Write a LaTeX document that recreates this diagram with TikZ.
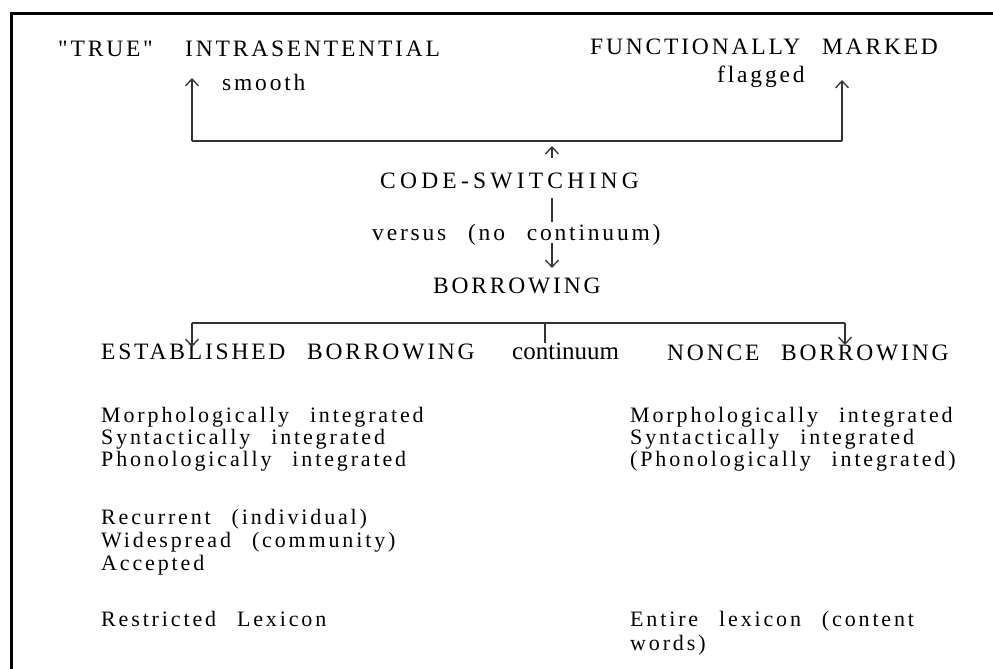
\documentclass[tikz,border=0pt]{standalone}
\usepackage{fontspec}
\setmainfont{Liberation Serif}
\newfontfamily\headfont[LetterSpace=12,WordSpace=2.5]{Liberation Serif}
\newfontfamily\bodyfont[LetterSpace=13,WordSpace=2.5]{Liberation Serif}
\usetikzlibrary{arrows.meta}

\tikzset{
  head/.style={font=\headfont\fontsize{23.5}{28}\selectfont, inner sep=0pt,
    anchor=base west, text=black},
  body/.style={font=\bodyfont\fontsize{22}{22}\selectfont, inner sep=0pt,
    anchor=base west, text=black},
  link/.style={line width=1.5pt, black!80},
  tip/.style={link, -{Straight Barb[length=7pt,width=13pt,line width=1.3pt]}}
}

\begin{document}
\begin{tikzpicture}[x=1pt,y=-1pt]
  \useasboundingbox (0,0) rectangle (993,669);
  % frame
  \draw[line width=3pt] (11,669) -- (11,14) -- (993,14);

  % top row
  \node[head] (qtrue) at (58,57) {"TRUE"};
  \node[head] (intra) at (185,57) {INTRASENTENTIAL};
  \node[head] (smooth) at (222,90) {smooth};
  \node[head] (funct) at (590,55) {FUNCTIONALLY MARKED};
  \node[head] (flagged) at (717,82) {flagged};

  % middle column
  \node[head] (codesw) at (380,188) {\addfontfeature{LetterSpace=18}CODE-SWITCHING};
  \node[head] (versus) at (372,240) {versus (no continuum)};
  \node[head] (borrow) at (433,293) {BORROWING};

  % lower row
  \node[head] (estab) at (101,359) {ESTABLISHED BORROWING};
  \node[font=\fontsize{25}{28}\selectfont, inner sep=0pt, anchor=base west,
    text=black] (contin) at (512,359) {continuum};
  \node[head] (nonce) at (667,360) {NONCE BORROWING};

  % left list
  \node[body] (lmorph) at (101,422) {Morphologically integrated};
  \node[body] (lsynt) at (101,444) {Syntactically integrated};
  \node[body] (lphon) at (101,466) {Phonologically integrated};
  \node[body] (lrecur) at (101,524) {Recurrent (individual)};
  \node[body] (lwide) at (101,547) {Widespread (community)};
  \node[body] (laccep) at (101,570) {Accepted};
  \node[body] (lrestr) at (101,626) {Restricted Lexicon};

  % right list
  \node[body] (rmorph) at (630,422) {Morphologically integrated};
  \node[body] (rsynt) at (630,444) {Syntactically integrated};
  \node[body] (rphon) at (630,466) {(Phonologically integrated)};
  \node[body] (rentire) at (630,626) {Entire lexicon (content};
  \node[body] (rwords) at (630,650) {words)};

  % upper bracket
  \coordinate (ulup) at (192,78);
  \coordinate (ul) at (192,141);
  \coordinate (ur) at (842,141);
  \coordinate (urup) at (842,80);
  \draw[tip] (ul) -- (ulup);
  \draw[link] (ul) -- (ur);
  \draw[tip] (ur) -- (urup);

  % code-switching versus borrowing
  \coordinate (csfoot) at (552,158);
  \coordinate (cshead) at (552,146);
  \draw[tip] (csfoot) -- (cshead);
  \coordinate (vstop) at (552,198);
  \coordinate (vsbot) at (552,222);
  \draw[link] (vstop) -- (vsbot);
  \coordinate (bwtop) at (552,243);
  \coordinate (bwhead) at (552,268);
  \draw[tip] (bwtop) -- (bwhead);

  % lower bracket
  \coordinate (ll) at (192,323);
  \coordinate (lldown) at (192,347);
  \coordinate (lr) at (845,323);
  \coordinate (lrdown) at (845,345);
  \coordinate (lmid) at (545,323);
  \coordinate (lmiddown) at (545,343);
  \draw[link] (ll) -- (lr);
  \draw[tip] (ll) -- (lldown);
  \draw[tip] (lr) -- (lrdown);
  \draw[link] (lmid) -- (lmiddown);
\end{tikzpicture}
\end{document}
